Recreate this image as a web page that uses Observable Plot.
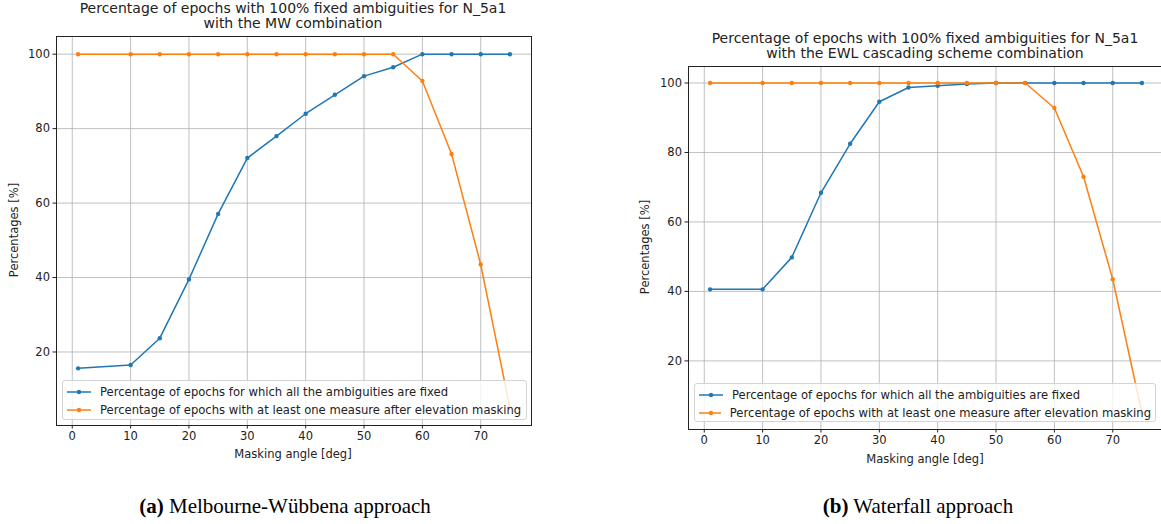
<!DOCTYPE html>
<html>
<head>
<meta charset="utf-8">
<script src="https://cdn.jsdelivr.net/npm/d3@7"></script>
<script src="https://cdn.jsdelivr.net/npm/@observablehq/plot@0.6"></script>
<style>
  html, body { margin: 0; padding: 0; background: #fff; }
  body { width: 1161px; height: 524px; overflow: hidden; position: relative; font-family: "DejaVu Sans", sans-serif; color: #222; }
  .abs { position: absolute; }
  .title { font-size: 14px; text-align: center; line-height: 15px; white-space: nowrap; transform: translateX(-50%); }
  .ylab { font-size: 11.5px; white-space: nowrap; transform: translate(-50%, -50%) rotate(-90deg); }
  .xlab { font-size: 11.5px; white-space: nowrap; transform: translateX(-50%); }
  .legend { background: rgba(255,255,255,0.8); border: 1px solid #d4d4d4; border-radius: 3px; font-size: 11.6px; box-sizing: border-box; padding: 2px 4px; }
  .legend .row { display: flex; align-items: center; height: 18px; white-space: nowrap; }
  .legend svg { margin-right: 9px; }
  .caption { font-family: "Liberation Serif", "Times New Roman", serif; font-size: 21px; white-space: nowrap; transform: translateX(-50%); color: #000; }
</style>
</head>
<body>
<script>
// ---- data ----
const angles = [1, 10, 15, 20, 25, 30, 35, 40, 45, 50, 55, 60, 65, 70, 75];
const mwFixed = [15.6, 16.5, 23.7, 39.5, 57.1, 72.1, 78, 84, 89.1, 94.1, 96.5, 100, 100, 100, 100];
const mwMeasure = [100, 100, 100, 100, 100, 100, 100, 100, 100, 100, 100, 92.8, 73.2, 43.5, 5];
const ewlFixed = [40.6, 40.6, 49.8, 68.4, 82.5, 94.6, 98.7, 99.2, 99.7, 100, 100, 100, 100, 100, 100];
const ewlMeasure = [100, 100, 100, 100, 100, 100, 100, 100, 100, 100, 100, 92.8, 73, 43.5, 5];
const xTicks = [0, 10, 20, 30, 40, 50, 60, 70];
const yTicks = [20, 40, 60, 80, 100];
const seriesNames = ["Percentage of epochs for which all the ambiguities are fixed",
                     "Percentage of epochs with at least one measure after elevation masking"];
const colors = ["#1f77b4", "#ff7f0e"];
const titlesA = ["Percentage of epochs with 100% fixed ambiguities for N_5a1", "with the MW combination"];
const titlesB = ["Percentage of epochs with 100% fixed ambiguities for N_5a1", "with the EWL cascading scheme combination"];
const xLabel = "Masking angle [deg]";
const yLabel = "Percentages [%]";

function rows(fixed, measure) {
  const r = [];
  angles.forEach((a, i) => r.push({angle: a, value: fixed[i], s: 0}));
  angles.forEach((a, i) => r.push({angle: a, value: measure[i], s: 1}));
  return r;
}

function panel(data, opts) {
  const xmin = d3.min(angles), xmax = d3.max(angles);
  const xm = (xmax - xmin) * 0.05;
  const vals = data.map(d => d.value);
  const ymin = d3.min(vals), ymax = d3.max(vals);
  const ym = (ymax - ymin) * 0.05;
  const s0 = data.filter(d => d.s === 0), s1 = data.filter(d => d.s === 1);
  return Plot.plot({
    width: opts.width, height: opts.height,
    marginLeft: opts.ml, marginRight: opts.mr, marginTop: opts.mt, marginBottom: opts.mb,
    style: {fontFamily: "DejaVu Sans", fontSize: "11.5px", color: "#222", background: "transparent", overflow: "visible"},
    x: {domain: [xmin - xm, xmax + xm]},
    y: {domain: [ymin - ym, ymax + ym]},
    marks: [
      Plot.gridX(xTicks, {stroke: "#b0b0b0", strokeOpacity: 1, strokeWidth: 0.8}),
      Plot.gridY(yTicks, {stroke: "#b0b0b0", strokeOpacity: 1, strokeWidth: 0.8}),
      Plot.line(s0, {x: "angle", y: "value", stroke: colors[0], strokeWidth: 1.5, clip: true}),
      Plot.dot(s0, {x: "angle", y: "value", fill: colors[0], r: 2.2, clip: true}),
      Plot.line(s1, {x: "angle", y: "value", stroke: colors[1], strokeWidth: 1.5, clip: true}),
      Plot.dot(s1, {x: "angle", y: "value", fill: colors[1], r: 2.2, clip: true}),
      Plot.axisX({ticks: xTicks, tickSize: 3.5, tickPadding: 3, label: null, stroke: "#222", fontSize: 11.5}),
      Plot.axisY({ticks: yTicks, tickSize: 3.5, tickPadding: 3, label: null, stroke: "#222", fontSize: 11.5}),
      Plot.frame({stroke: "#222", strokeWidth: 1})
    ]
  });
}

function addDiv(cls, left, top, html) {
  const d = document.createElement("div");
  d.className = "abs " + cls;
  d.style.left = left + "px";
  d.style.top = top + "px";
  d.innerHTML = html;
  document.body.appendChild(d);
  return d;
}

function legend(left, top, width, height) {
  const d = addDiv("legend", left, top, "");
  d.style.width = width + "px";
  d.style.height = height + "px";
  seriesNames.forEach((n, i) => {
    const r = document.createElement("div");
    r.className = "row";
    r.innerHTML = `<svg width="24" height="8"><line x1="0" x2="24" y1="4" y2="4" stroke="${colors[i]}" stroke-width="1.5"/><circle cx="12" cy="4" r="2.2" fill="${colors[i]}"/></svg><span>${n}</span>`;
    d.appendChild(r);
  });
}

// Panel (a)
const pa = panel(rows(mwFixed, mwMeasure), {width: 580, height: 470, ml: 56, mr: 49, mt: 36, mb: 45});
pa.style.position = "absolute"; pa.style.left = "0px"; pa.style.top = "0px";
document.body.appendChild(pa);
addDiv("title", 293, 1, titlesA.join("<br>"));
addDiv("ylab", 14, 230, yLabel);
addDiv("xlab", 293, 447, xLabel);
legend(62, 380, 465, 40);
addDiv("caption", 285, 494, "<b>(a)</b> Melbourne-Wübbena approach");

// Panel (b)
const pb = panel(rows(ewlFixed, ewlMeasure), {width: 560, height: 470, ml: 48, mr: 37, mt: 66, mb: 41});
pb.style.position = "absolute"; pb.style.left = "640px"; pb.style.top = "0px";
document.body.appendChild(pb);
addDiv("title", 925, 31, titlesB.join("<br>"));
addDiv("ylab", 645, 247, yLabel);
addDiv("xlab", 925, 452, xLabel);
legend(694, 383, 462, 39);
addDiv("caption", 918, 494, "<b>(b)</b> Waterfall approach");
</script>
</body>
</html>
